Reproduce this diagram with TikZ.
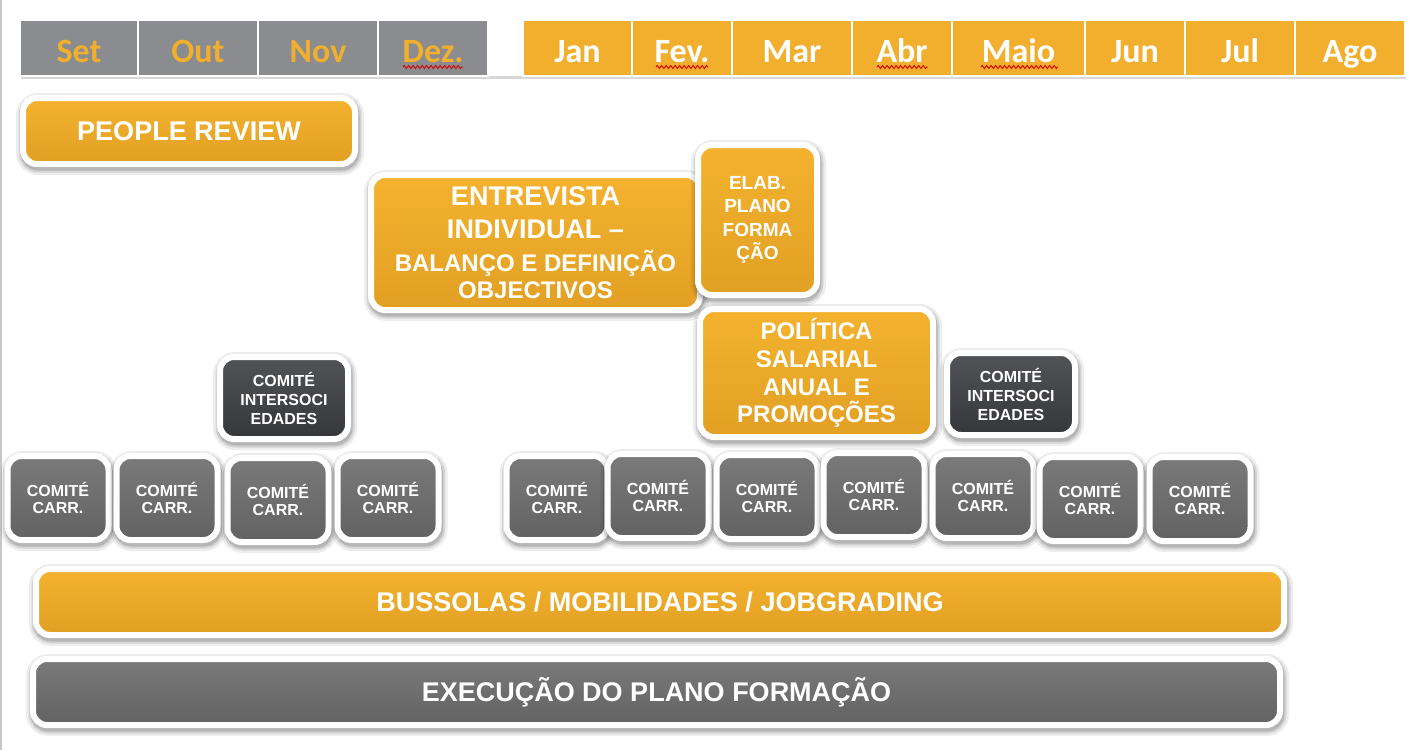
\documentclass[tikz,border=0pt]{standalone}
\usepackage{fontspec}
\setmainfont{Liberation Sans}
\newfontfamily\monthfont{Carlito}
\usetikzlibrary{shadows,decorations.pathmorphing}
\definecolor{orgtop}{HTML}{F4B22F}
\definecolor{orgbot}{HTML}{E2A024}
\definecolor{hdrorg}{HTML}{F1AF2D}
\definecolor{hdrgrey}{HTML}{8A8C8F}
\definecolor{greytop}{HTML}{7A7A7A}
\definecolor{greybot}{HTML}{626262}
\definecolor{darkbox}{HTML}{3F4043}
\tikzset{
  box/.style={draw=white, line width=6pt, rounded corners=14pt, inner sep=0pt,
    align=center, text=white,
    drop shadow={shadow xshift=1pt, shadow yshift=-3pt, opacity=0.07,
      fill=none, draw=black, line width=16pt},
    drop shadow={shadow xshift=1pt, shadow yshift=-3pt, opacity=0.10,
      fill=none, draw=black, line width=11pt},
    drop shadow={shadow xshift=1pt, shadow yshift=-3pt, opacity=0.14,
      fill=black, draw=black, line width=7pt}},
  obox/.style={box, top color=orgtop, bottom color=orgbot},
  gbox/.style={box, top color=greytop, bottom color=greybot},
  dbox/.style={box, top color=darkbox!90!white, bottom color=darkbox!85!black},
  carr/.style={gbox, minimum width=101pt, minimum height=84pt,
    font=\bfseries\fontsize{16}{17.5}\selectfont},
  inter/.style={dbox, minimum width=128pt, minimum height=82pt,
    font=\bfseries\fontsize{16}{19}\selectfont},
  hdrbg/.style={fill=white, inner sep=0pt,
    drop shadow={shadow xshift=1pt, shadow yshift=-3pt, opacity=0.3}},
  cellg/.style={fill=hdrgrey, draw=white, line width=1.5pt, minimum height=56pt,
    inner sep=0pt, text height=30pt, text depth=2pt, text=hdrorg,
    font=\monthfont\bfseries\fontsize{34}{40}\selectfont},
  cello/.style={cellg, fill=hdrorg, text=white},
  squig/.style={draw=red!85!black, line width=0.9pt,
    decorate, decoration={zigzag, segment length=4.5pt, amplitude=1.5pt}},
  edgeline/.style={draw=black!22, line width=2pt}
}
\begin{document}
\begin{tikzpicture}[x=1pt,y=-1pt]
\useasboundingbox (0,0) rectangle (1418,750);
\fill[white] (0,0) rectangle (1418,750);
% left frame edge
\coordinate (frameT) at (1,0);
\coordinate (frameB) at (1,750);
\draw[edgeline] (frameT) -- (frameB);

% header
\node[hdrbg, minimum width=1385pt, minimum height=56pt] (hdr) at (712.5,48) {};
\node[cellg, minimum width=118pt] (set) at (79,48) {Set};
\node[cellg, minimum width=120pt] (out) at (198,48) {Out};
\node[cellg, minimum width=120pt] (nov) at (318,48) {Nov};
\node[cellg, minimum width=110pt] (dez) at (433,48) {Dez.};
\node[cello, minimum width=109pt] (jan) at (577.5,48) {Jan};
\node[cello, minimum width=100pt] (fev) at (682,48) {Fev.};
\node[cello, minimum width=120pt] (mar) at (792,48) {Mar};
\node[cello, minimum width=100pt] (abr) at (902,48) {Abr};
\node[cello, minimum width=133pt] (maio) at (1018.5,48) {Maio};
\node[cello, minimum width=100pt] (jun) at (1135,48) {Jun};
\node[cello, minimum width=110pt] (jul) at (1240,48) {Jul};
\node[cello, minimum width=110pt] (ago) at (1350,48) {Ago};

% spell-check squiggles
\coordinate (sqDa) at (403,67); \coordinate (sqDb) at (463,67);
\coordinate (sqFa) at (656,67); \coordinate (sqFb) at (708,67);
\coordinate (sqAa) at (877,67); \coordinate (sqAb) at (928,67);
\coordinate (sqMa) at (981,67); \coordinate (sqMb) at (1058,67);
\draw[squig] (sqDa) -- (sqDb);
\draw[squig] (sqFa) -- (sqFb);
\draw[squig] (sqAa) -- (sqAb);
\draw[squig] (sqMa) -- (sqMb);

% main boxes
\node[obox, minimum width=332pt, minimum height=66pt,
  font=\bfseries\fontsize{27}{31}\selectfont] (people) at (189,131) {PEOPLE REVIEW};

\node[obox, minimum width=329pt, minimum height=135pt,
  font=\bfseries\fontsize{27}{33}\selectfont] (entrev) at (535.5,242.5)
  {ENTREVISTA\\INDIVIDUAL --\\{\fontsize{24}{27}\selectfont BALANÇO E DEFINIÇÃO}\\[-6pt]{\fontsize{24}{27}\selectfont OBJECTIVOS}};

\node[obox, minimum width=119pt, minimum height=150pt,
  font=\bfseries\fontsize{19}{23.5}\selectfont] (elab) at (757.5,220)
  {ELAB.\\PLANO\\FORMA\\ÇÃO};

\node[obox, minimum width=233pt, minimum height=128pt,
  font=\bfseries\fontsize{24}{27.8}\selectfont] (polit) at (816.5,373)
  {POLÍTICA\\SALARIAL\\ANUAL E\\PROMOÇÕES};

\node[inter] (ci1) at (284,398) {COMITÉ\\INTERSOCI\\EDADES};
\node[inter] (ci2) at (1011,394) {COMITÉ\\INTERSOCI\\EDADES};

% comite carr boxes
\node[carr] (c1) at (58,498) {COMITÉ\\CARR.};
\node[carr] (c2) at (167,498) {COMITÉ\\CARR.};
\node[carr] (c3) at (278,500) {COMITÉ\\CARR.};
\node[carr] (c4) at (388,498) {COMITÉ\\CARR.};
\node[carr] (c5) at (557,498) {COMITÉ\\CARR.};
\node[carr] (c6) at (658,496) {COMITÉ\\CARR.};
\node[carr] (c7) at (767,497) {COMITÉ\\CARR.};
\node[carr] (c8) at (874,495) {COMITÉ\\CARR.};
\node[carr] (c9) at (983,496) {COMITÉ\\CARR.};
\node[carr] (c10) at (1090,499) {COMITÉ\\CARR.};
\node[carr] (c11) at (1200,499) {COMITÉ\\CARR.};

% bottom bars
\node[obox, minimum width=1248pt, minimum height=66pt,
  font=\bfseries\fontsize{27}{31}\selectfont] (buss) at (660,602)
  {BUSSOLAS / MOBILIDADES / JOBGRADING};
\node[gbox, minimum width=1247pt, minimum height=66pt,
  font=\bfseries\fontsize{27}{31}\selectfont] (exec) at (656.5,692)
  {EXECUÇÃO DO PLANO FORMAÇÃO};
\end{tikzpicture}
\end{document}
